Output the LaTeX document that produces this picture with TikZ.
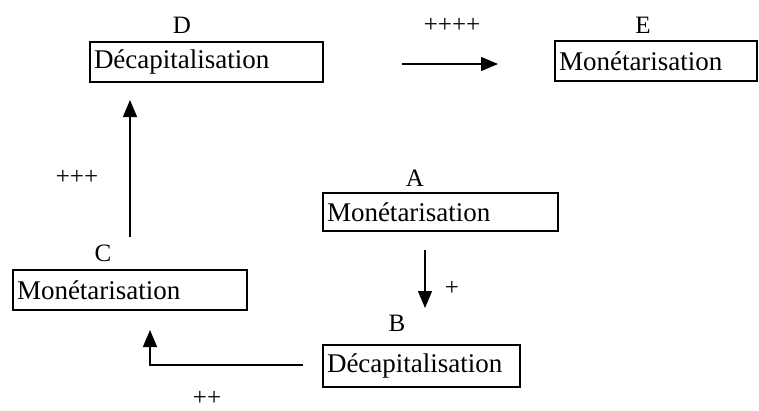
\documentclass[tikz,border=0pt]{standalone}
\usepackage{fontspec}
\setmainfont{Liberation Serif}
\usetikzlibrary{arrows.meta}
\begin{document}
\begin{tikzpicture}[x=1pt,y=-1pt,
  box/.style={draw=black,line width=1.6pt,rectangle,inner xsep=4pt,inner ysep=0pt,
    align=left,font=\fontsize{27}{29}\selectfont},
  lbl/.style={inner sep=0pt,font=\fontsize{25}{27}\selectfont},
  arr/.style={line width=1.5pt,-{Triangle[length=17pt,width=14pt]}}]
\useasboundingbox (0,0) rectangle (759,410);
% boxes
\node[box,text width=225pt,minimum height=40pt] (D) at (206.5,62) {Décapitalisation};
\node[box,text width=194pt,minimum height=40pt] (E) at (656,61) {Monétarisation};
\node[box,text width=227pt,minimum height=38pt] (A) at (440.5,212) {Monétarisation};
\node[box,text width=189pt,minimum height=42pt] (B) at (421.5,366) {Décapitalisation};
\node[box,text width=226pt,minimum height=40pt] (C) at (130,290) {Monétarisation};
% letters
\node[lbl] (lD) at (182,25) {D};
\node[lbl] (lE) at (643,25) {E};
\node[lbl] (lA) at (415,178) {A};
\node[lbl] (lB) at (397,323) {B};
\node[lbl] (lC) at (103,253) {C};
% signs
\node[lbl] (s4) at (452,25) {++++};
\node[lbl] (s1) at (452,288) {+};
\node[lbl] (s2) at (207,398) {++};
\node[lbl] (s3) at (77,177) {+++};
% connector ends
\coordinate (de1) at (402,64);
\coordinate (de2) at (498,64);
\coordinate (ab1) at (425,250);
\coordinate (ab2) at (425,308);
\coordinate (bc1) at (303,365);
\coordinate (bc2) at (150,365);
\coordinate (bc3) at (150,330);
\coordinate (cd1) at (130,237);
\coordinate (cd2) at (130,100);
% arrows
\draw[arr] (de1) -- (de2);
\draw[arr] (ab1) -- (ab2);
\draw[arr] (bc1) -- (bc2) -- (bc3);
\draw[arr] (cd1) -- (cd2);
\end{tikzpicture}
\end{document}
